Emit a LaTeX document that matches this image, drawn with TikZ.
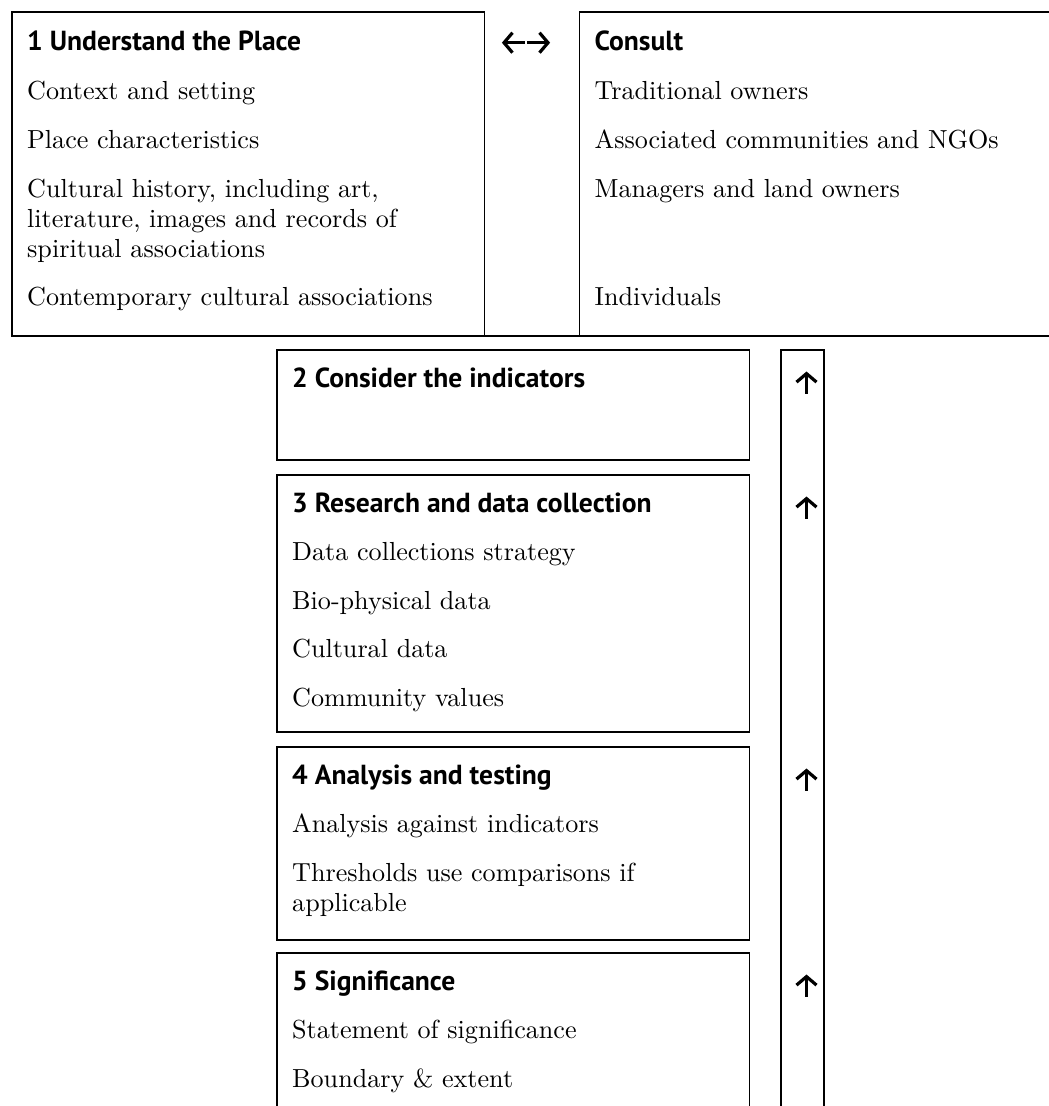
\documentclass[tikz,border=0pt]{standalone}
\usepackage{fontspec}
\usetikzlibrary{arrows.meta}
\newfontfamily\hdfont{PT Sans}
\newfontfamily\bodyfnt{lmroman10-regular.otf}
\newlength\tmpw
\settowidth\tmpw{\hdfont\bfseries\fontsize{10}{12}\selectfont 1 Understand the Place}
\pgfmathsetmacro\hdsize{10*274/\tmpw}
\settowidth\tmpw{\bodyfnt\fontsize{10}{12}\selectfont Associated communities and NGOs}
\pgfmathsetmacro\bdsize{10*404/\tmpw}
\tikzset{
  frame/.style={draw, line width=1.8pt},
  boxnode/.style={frame, rectangle, inner sep=0pt, outer sep=0pt, anchor=north west},
  bodytxt/.style={inner sep=0pt, anchor=base west, font=\bodyfnt\fontsize{\bdsize}{30}\selectfont},
  hdtxt/.style={inner sep=0pt, anchor=base west, font=\hdfont\bfseries\fontsize{\hdsize}{28}\selectfont},
  glyph/.style={line width=3.2pt, -{Straight Barb[length=8.5pt,width=20pt]}},
  slot/.style={inner sep=0pt, outer sep=0pt, minimum width=0pt}
}
\begin{document}
\begin{tikzpicture}[x=1pt,y=-1pt]
\useasboundingbox (0,0) rectangle (1049,1106);
% top table
\node[boxnode, minimum width=472.5pt, minimum height=324pt] (b1) at (12,12) {};
\node[rectangle, inner sep=0pt, outer sep=0pt, anchor=north west, minimum width=480pt, minimum height=324pt] (cons) at (579.5,12) {};
\draw[frame] (cons.north east) -- (cons.north west) -- (cons.south west) -- (cons.south east);
\draw[frame] (b1.south east) -- (cons.south west);
\node[hdtxt] (h1) at (27,50.7) {1 Understand the Place};
\node[bodytxt] (t11) at (27,99.7) {Context and setting};
\node[bodytxt] (t12) at (27,148.7) {Place characteristics};
\node[bodytxt] (t13a) at (27,197.5) {Cultural history, including art,};
\node[bodytxt] (t13b) at (27,227.5) {literature, images and records of};
\node[bodytxt] (t13c) at (27,257.5) {spiritual associations};
\node[bodytxt] (t14) at (27,305.5) {Contemporary cultural associations};
\node[hdtxt] (hc) at (594.5,50.7) {Consult};
\node[bodytxt] (c1) at (594.5,99.7) {Traditional owners};
\node[bodytxt] (c2) at (594.5,148.7) {Associated communities and NGOs};
\node[bodytxt] (c3) at (594.5,197.5) {Managers and land owners};
\node[bodytxt] (c4) at (594.5,305.5) {Individuals};
% double arrow
\node[slot, minimum width=23pt] (la) at (513.4,42.7) {};
\node[slot, minimum width=23pt] (ra) at (538.6,42.7) {};
\draw[glyph] (la.east) -- (la.west);
\draw[glyph] (ra.west) -- (ra.east);
% step boxes
\node[boxnode, minimum width=472.5pt, minimum height=110pt] (b2) at (277,350) {};
\node[boxnode, minimum width=472.5pt, minimum height=257pt] (b3) at (277,475) {};
\node[boxnode, minimum width=472.5pt, minimum height=193pt] (b4) at (277,747) {};
\node[boxnode, minimum width=472.5pt, minimum height=180pt] (b5) at (277,953) {};
\node[boxnode, minimum width=43.6pt, minimum height=780pt] (bar) at (780.7,350) {};
\node[hdtxt] (h2) at (292,387) {2 Consider the indicators};
\node[hdtxt] (h3) at (292,512) {3 Research and data collection};
\node[bodytxt] (t31) at (292,560.5) {Data collections strategy};
\node[bodytxt] (t32) at (292,609) {Bio-physical data};
\node[bodytxt] (t33) at (292,657.5) {Cultural data};
\node[bodytxt] (t34) at (292,706) {Community values};
\node[hdtxt] (h4) at (292,784) {4 Analysis and testing};
\node[bodytxt] (t41) at (292,832.5) {Analysis against indicators};
\node[bodytxt] (t42a) at (292,881) {Thresholds use comparisons if};
\node[bodytxt] (t42b) at (292,911) {applicable};
\node[hdtxt] (h5) at (292,990) {5 Significance};
\node[bodytxt] (t51) at (292,1038.5) {Statement of significance};
\node[bodytxt] (t52) at (292,1087) {Boundary \& extent};
% up arrows
\node[slot, minimum height=22pt] (u2) at (806.5,382.5) {};
\node[slot, minimum height=22pt] (u3) at (806.5,507.5) {};
\node[slot, minimum height=22pt] (u4) at (806.5,779.5) {};
\node[slot, minimum height=22pt] (u5) at (806.5,985.5) {};
\foreach \u in {u2,u3,u4,u5} \draw[glyph] (\u.south) -- (\u.north);
\end{tikzpicture}
\end{document}
